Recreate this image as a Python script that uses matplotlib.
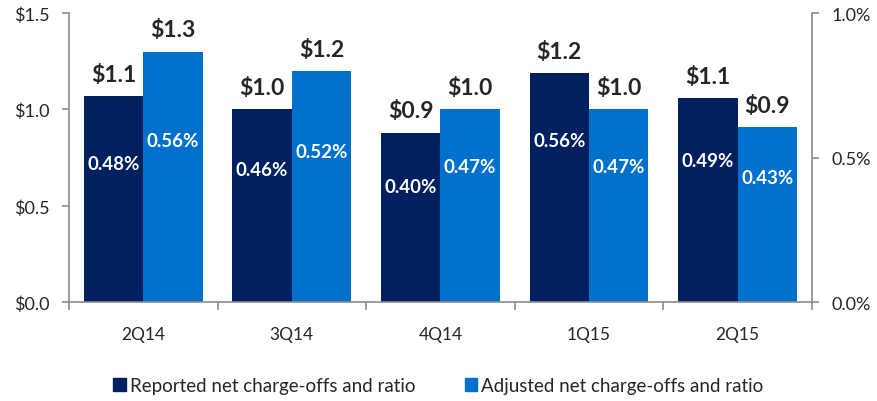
import matplotlib
matplotlib.use("Agg")
import matplotlib.pyplot as plt
import numpy as np
from matplotlib.patches import Patch

plt.rcParams['font.family'] = ['Lato', 'DejaVu Sans']

categories = ["2Q14", "3Q14", "4Q14", "1Q15", "2Q15"]
reported = [1.07, 1.00, 0.88, 1.19, 1.06]
adjusted = [1.30, 1.20, 1.00, 1.00, 0.91]
reported_lbl = ["$1.1", "$1.0", "$0.9", "$1.2", "$1.1"]
adjusted_lbl = ["$1.3", "$1.2", "$1.0", "$1.0", "$0.9"]
reported_pct = [0.48, 0.46, 0.40, 0.56, 0.49]
adjusted_pct = [0.56, 0.52, 0.47, 0.47, 0.43]

c_rep = "#00205F"
c_adj = "#0070CD"
grey = "#8C8C8C"
txt = "#262626"

fig = plt.figure(figsize=(8.77, 4.02), dpi=100)
ax = fig.add_axes([0.0787, 0.246, 0.847, 0.719])
ax2 = ax.twinx()

x = np.arange(len(categories))
w = 0.4
ax.bar(x - w/2, reported, w, color=c_rep, zorder=2)
ax.bar(x + w/2, adjusted, w, color=c_adj, zorder=2)

for i in range(len(categories)):
    ax.annotate(reported_lbl[i], (x[i] - w/2, reported[i]), xytext=(0, 8),
                textcoords="offset points", ha="center", va="bottom",
                fontsize=16.5, fontweight="bold", color=txt)
    ax.annotate(adjusted_lbl[i], (x[i] + w/2, adjusted[i]), xytext=(0, 8),
                textcoords="offset points", ha="center", va="bottom",
                fontsize=16.5, fontweight="bold", color=txt)
    ax2.text(x[i] - w/2, reported_pct[i], f"{reported_pct[i]:.2f}%", ha="center",
             va="center", fontsize=13.5, fontweight="bold", color="white", zorder=5)
    ax2.text(x[i] + w/2, adjusted_pct[i], f"{adjusted_pct[i]:.2f}%", ha="center",
             va="center", fontsize=13.5, fontweight="bold", color="white", zorder=5)

ax.set_xlim(-0.5, len(categories) - 0.5)
ax.set_ylim(0, 1.5)
ax2.set_ylim(0, 1.0)
ax.set_yticks([0, 0.5, 1.0, 1.5])
ax.set_yticklabels(["$0.0", "$0.5", "$1.0", "$1.5"])
ax2.set_yticks([0, 0.5, 1.0])
ax2.set_yticklabels(["0.0%", "0.5%", "1.0%"])

ax.set_xticks(x)
ax.set_xticklabels(categories)
ax.set_xticks(np.arange(-0.5, len(categories)), minor=True)
ax.tick_params(axis="x", which="major", length=0, labelsize=12.5, colors=txt, pad=17)
ax.tick_params(axis="x", which="minor", length=6, color=grey, width=1.2)
ax.tick_params(axis="y", length=5, color=grey, width=1.2, labelsize=13, labelcolor=txt, pad=9)
ax2.tick_params(axis="y", length=5, color=grey, width=1.2, labelsize=13, labelcolor=txt, pad=9)

for a in (ax, ax2):
    a.spines["top"].set_visible(False)
    for s in ("left", "right", "bottom"):
        a.spines[s].set_color(grey)
        a.spines[s].set_linewidth(1.2)
ax.spines["right"].set_visible(False)
ax2.spines["left"].set_visible(False)
ax2.spines["bottom"].set_visible(False)

handles = [Patch(color=c_rep, label="Reported net charge-offs and ratio"),
           Patch(color=c_adj, label="Adjusted net charge-offs and ratio")]
fig.legend(handles=handles, loc="lower center", bbox_to_anchor=(0.5, -0.025), ncol=2,
           frameon=False, fontsize=13.5, handlelength=0.65, handleheight=0.65,
           handletextpad=0.25, columnspacing=2.6, labelcolor=txt)

fig.savefig("out.png", dpi=100)
